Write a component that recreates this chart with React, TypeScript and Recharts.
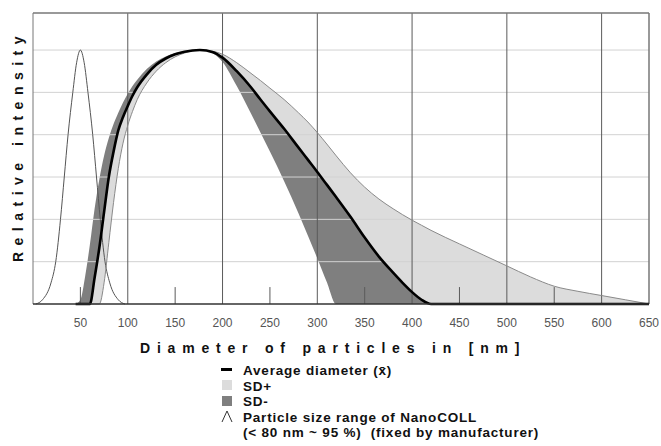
import React from 'react';
import { ComposedChart, Area, Line, XAxis, YAxis, ReferenceLine } from 'recharts';

// Shared diameter grid (nm) for the average curve and its SD envelopes
const diameters = [45, 50, 55, 60, 65, 70, 75, 80, 85, 90, 95, 100, 105, 110, 120, 130, 140, 150, 160,
  176, 190, 200, 215, 230, 240, 250, 265, 280, 290, 300, 310, 320, 335, 350, 365, 380, 390, 400, 410, 420,
  450, 475, 500, 525, 550, 575, 600, 625, 650];
const averageIntensity = [0, 0, 0, 0, 0.62, 1.33, 2.17, 3.0, 3.6, 4.1, 4.42, 4.68, 4.92, 5.12, 5.42, 5.65, 5.8, 5.9, 5.96,
  6, 5.95, 5.82, 5.5, 5.12, 4.83, 4.55, 4.14, 3.7, 3.41, 3.12, 2.82, 2.52, 2.06, 1.57, 1.12, 0.74, 0.5, 0.28, 0.1, 0,
  0, 0, 0, 0, 0, 0, 0, 0, 0];
const sdPlusIntensity = [0, 0, 0, 0, 0, 0, 0.5, 1.45, 2.4, 3.2, 3.8, 4.22, 4.55, 4.83, 5.22, 5.5, 5.7, 5.84, 5.93,
  6, 5.97, 5.9, 5.7, 5.45, 5.28, 5.1, 4.83, 4.52, 4.3, 4.05, 3.78, 3.5, 3.1, 2.76, 2.48, 2.25, 2.11, 1.98, 1.86, 1.74,
  1.42, 1.16, 0.9, 0.64, 0.42, 0.3, 0.2, 0.1, 0];
const sdMinusIntensity = [0, 0.1, 0.65, 1.4, 2.25, 2.95, 3.5, 3.92, 4.25, 4.52, 4.76, 4.97, 5.15, 5.3, 5.55, 5.73, 5.85, 5.93, 5.97,
  6, 5.92, 5.72, 5.15, 4.5, 4.05, 3.6, 2.9, 2.15, 1.62, 1.08, 0.52, 0, 0, 0, 0, 0, 0, 0, 0, 0,
  0, 0, 0, 0, 0, 0, 0, 0, 0];

// NanoCOLL particle size range curve
const nanocollDiameters = [3, 10, 19, 24, 29, 33, 37, 42, 46, 50, 54, 58, 63, 67, 71, 76, 81, 90, 97];
const nanocollIntensity = [0, 0.1, 0.5, 1, 2, 3, 4, 5, 5.7, 6, 5.7, 5, 4, 3, 2, 1, 0.5, 0.1, 0];

const xTicks = [50, 100, 150, 200, 250, 300, 350, 400, 450, 500, 550, 600, 650];
const majorGridX = [100, 200, 300, 400, 500, 600];
const minorTickX = [50, 150, 250, 350, 450, 550];
const gridY = [1, 2, 3, 4, 5, 6];
const Y_MAX = 6.875;
const MINOR_TICK_LEN = 0.4;

const LIGHT = '#dcdcdc';
const DARK = '#7f7f7f';

const mainData = diameters.map((d, i) => {
  const a = averageIntensity[i];
  const p = sdPlusIntensity[i];
  const m = sdMinusIntensity[i];
  return {
    d,
    avg: a,
    sdp: p,
    light: [Math.min(a, p), Math.max(a, p)],
    dark: [Math.min(a, m), Math.max(a, m)],
  };
});

const nanoData = nanocollDiameters.map((d, i) => ({ d, nano: nanocollIntensity[i] }));

const FONT = '"Liberation Sans", Arial, Helvetica, sans-serif';

export default function App() {
  return (
    <div style={{ position: 'absolute', left: 0, top: 0, width: 661, height: 446, background: '#fff' }}>
      <ComposedChart
        width={661}
        height={446}
        data={mainData}
        margin={{ top: 13, right: 12, bottom: 112, left: 33 }}
        style={{ fontFamily: FONT }}
      >
        <XAxis
          dataKey="d"
          type="number"
          domain={[0, 650]}
          ticks={xTicks}
          interval={0}
          tickLine={false}
          axisLine={{ stroke: '#333', strokeWidth: 1.5 }}
          tick={{ fill: '#555', fontSize: 12, fontFamily: FONT }}
          tickMargin={8}
          height={30}
        />
        <YAxis hide type="number" domain={[0, Y_MAX]} width={0} />
        <Area
          dataKey="light"
          type="monotone"
          fill={LIGHT}
          fillOpacity={1}
          stroke="none"
          isAnimationActive={false}
        />
        <Area
          dataKey="dark"
          type="monotone"
          fill={DARK}
          fillOpacity={1}
          stroke="none"
          isAnimationActive={false}
        />
        {gridY.map((v) => (
          <ReferenceLine key={'gy' + v} y={v} stroke="#d2d2d2" strokeWidth={1} />
        ))}
        {majorGridX.map((v) => (
          <ReferenceLine key={'gx' + v} x={v} stroke="#5a5a5a" strokeWidth={1} />
        ))}
        {minorTickX.map((v) => (
          <ReferenceLine
            key={'mt' + v}
            segment={[{ x: v, y: 0 }, { x: v, y: MINOR_TICK_LEN }]}
            stroke="#5a5a5a"
            strokeWidth={1}
          />
        ))}
        <ReferenceLine x={0} stroke="#777" strokeWidth={1} />
        <ReferenceLine x={650} stroke="#777" strokeWidth={1.5} />
        <ReferenceLine y={Y_MAX} stroke="#777" strokeWidth={1.5} />
        <Line
          data={nanoData}
          dataKey="nano"
          type="monotone"
          stroke="#555"
          strokeWidth={1}
          dot={false}
          isAnimationActive={false}
        />
        <Line
          dataKey="sdp"
          type="monotone"
          stroke="#8a8a8a"
          strokeWidth={1}
          dot={false}
          isAnimationActive={false}
        />
        <Line
          dataKey="avg"
          type="monotone"
          stroke="#000"
          strokeWidth={2.6}
          dot={false}
          isAnimationActive={false}
        />
      </ComposedChart>
      <svg
        width={661}
        height={446}
        style={{ position: 'absolute', left: 0, top: 0, pointerEvents: 'none' }}
        fontFamily={FONT}
      >
        <text
          x={140}
          y={353}
          fontSize={14}
          fontWeight="bold"
          letterSpacing={6.8}
          fill="#111"
        >
          Diameter of particles in [nm]
        </text>
        <text
          transform="translate(23,146) rotate(-90)"
          textAnchor="middle"
          fontSize={14}
          fontWeight="bold"
          letterSpacing={6.5}
          fill="#111"
        >
          Relative intensity
        </text>
        <rect x={221} y={368} width={11} height={3} fill="#000" />
        <rect x={222} y={380} width={10} height={10} fill={LIGHT} />
        <rect x={222} y={396} width={10} height={10} fill={DARK} />
        <path d="M222,422 L227,411 L232,422" stroke="#333" strokeWidth={1} fill="none" />
        <g fontSize={13.5} fontWeight="bold" fill="#111" letterSpacing={0.8}>
          <text x={243} y={375}>Average diameter (x̄)</text>
          <text x={243} y={391}>SD+</text>
          <text x={243} y={406}>SD-</text>
          <text x={243} y={422}>Particle size range of NanoCOLL</text>
          <text x={243} y={437} style={{ whiteSpace: 'pre' }}>(&lt; 80 nm ~ 95 %)  (fixed by manufacturer)</text>
        </g>
      </svg>
    </div>
  );
}
